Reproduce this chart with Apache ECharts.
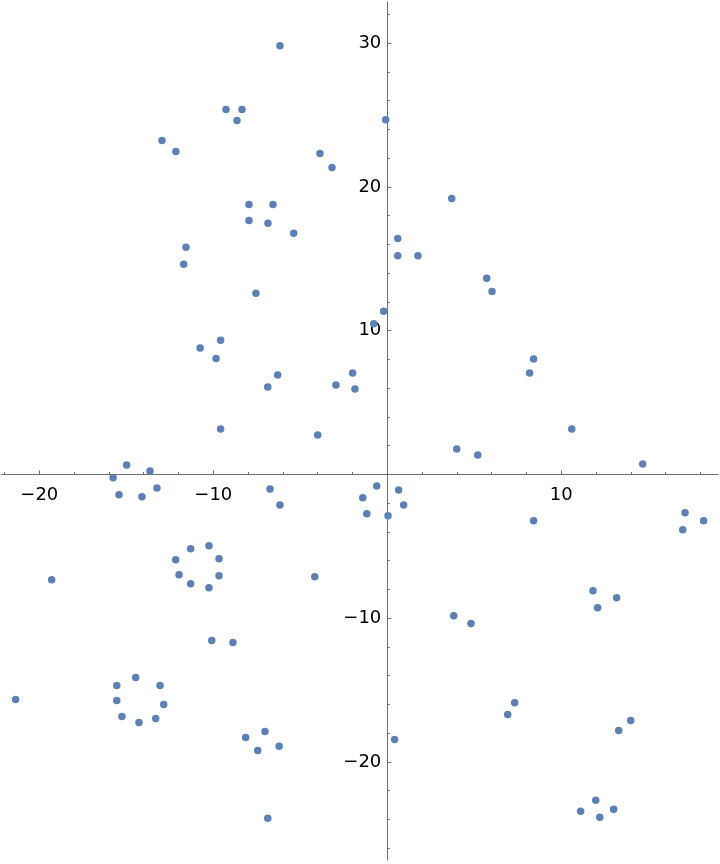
<!DOCTYPE html>
<html>
<head>
<meta charset="utf-8">
<style>
  html, body { margin: 0; padding: 0; background: #ffffff; }
  #chart { width: 720px; height: 864px; }
</style>
<script src="https://cdn.jsdelivr.net/npm/echarts@6/dist/echarts.min.js"></script>
</head>
<body>
<div id="chart"></div>
<script>
// Point coordinates
const xValues = [
  -6.17, -9.27, -8.35, -8.64, -12.95, -12.15, -3.87, -3.18, -7.95, -6.57,
  -7.95, -6.86, -5.38, -11.57, -11.70, -7.55, -0.09, 3.70, 0.60, 0.60,
  1.76, 5.71, 6.02, -10.76, -9.58, -9.84, -6.30, -6.87, -1.99, -2.95,
  -1.86, -9.58, -4.00, -14.98, -13.64, -15.76, -15.42, -14.10, -13.24, -6.74,
  -6.17, -11.30, -10.25, -12.16, -9.67, -11.97, -9.67, -11.30, -10.25, -19.29,
  -4.17, -0.21, -0.78, 8.41, 8.18, 10.60, 3.99, 5.20, 14.68, -1.41,
  -0.61, -1.18, 0.04, 0.65, 0.94, 8.41, 17.11, 18.18, 16.98, -10.09,
  -8.87, -14.46, -15.55, -13.06, -15.55, -12.85, -15.25, -14.27, -13.31, -21.36,
  -8.14, -7.03, -7.45, -6.22, -6.87, 0.42, 3.82, 4.81, 7.32, 6.92,
  11.82, 13.18, 12.09, 13.99, 13.30, 11.98, 11.11, 13.01, 12.21
];
const yValues = [
  29.83, 25.38, 25.38, 24.62, 23.23, 22.47, 22.33, 21.35, 18.78, 18.78,
  17.67, 17.47, 16.77, 15.80, 14.62, 12.60, 24.67, 19.20, 16.42, 15.22,
  15.22, 13.65, 12.72, 8.79, 9.34, 8.07, 6.91, 6.08, 7.05, 6.22,
  5.94, 3.16, 2.74, 0.66, 0.24, -0.24, -1.42, -1.56, -0.94, -1.01,
  -2.12, -5.17, -4.97, -5.94, -5.87, -6.98, -7.05, -7.60, -7.88, -7.33,
  -7.12, 11.35, 10.48, 8.02, 7.05, 3.16, 1.77, 1.35, 0.73, -1.63,
  -0.80, -2.74, -2.88, -1.08, -2.12, -3.23, -2.67, -3.23, -3.85, -11.56,
  -11.70, -14.13, -14.69, -14.69, -15.73, -16.01, -16.84, -17.26, -16.98, -15.66,
  -18.30, -17.88, -19.20, -18.92, -23.92, -18.44, -9.83, -10.38, -15.89, -16.70,
  -8.09, -8.58, -9.27, -17.12, -17.81, -22.67, -23.44, -23.30, -23.85
];
// tick values (major with labels, minor without)
const xMajorTicks = [-20, -10, 0, 10];
const xLabelTicks = [-20, -10, 10];
const xMinorTicks = [-22, -18, -16, -14, -12, -8, -6, -4, -2, 2, 4, 6, 8, 12, 14, 16, 18];
const yMajorTicks = [-20, -10, 0, 10, 20, 30];
const yLabelTicks = [-20, -10, 10, 20, 30];
const yMinorTicks = [-26, -24, -22, -18, -16, -14, -12, -8, -6, -4, -2, 2, 4, 6, 8, 12, 14, 16, 18, 22, 24, 26, 28, 32];

const points = xValues.map((x, i) => [x, yValues[i]]);

// plot range
const xMin = -22.144, xMax = 19.006, yMin = -26.826, yMax = 32.865;

// grid box
const W = 720, H = 864;
const G = { left: 2, right: 2, top: 2, bottom: 4 };
const gridW = W - G.left - G.right, gridH = H - G.top - G.bottom;
// move axes from the grid edges to the zero lines
const xAxisOffset = -gridH * (0 - yMin) / (yMax - yMin);
const yAxisOffset = -gridW * (0 - xMin) / (xMax - xMin);

const fmt = v => (v === 0 ? '' : String(v).replace('-', '\u2212'));
const axisGray = '#6e6e6e';
const labelStyle = { color: '#000', fontFamily: 'DejaVu Sans', fontSize: 18 };

function xAx(ticks, labels, len) {
  return {
    type: 'value', min: xMin, max: xMax, position: 'bottom', offset: xAxisOffset,
    axisLine: { show: true, onZero: false, lineStyle: { color: axisGray, width: 1 } },
    axisTick: { show: true, inside: true, length: len, customValues: ticks, lineStyle: { color: axisGray } },
    minorTick: { show: false },
    splitLine: { show: false },
    axisLabel: labels
      ? Object.assign({ show: true, customValues: labels, formatter: fmt, margin: 12 }, labelStyle)
      : { show: false }
  };
}
function yAx(ticks, labels, len) {
  return {
    type: 'value', min: yMin, max: yMax, position: 'left', offset: yAxisOffset,
    axisLine: { show: true, onZero: false, lineStyle: { color: axisGray, width: 1 } },
    axisTick: { show: true, inside: true, length: len, customValues: ticks, lineStyle: { color: axisGray } },
    minorTick: { show: false },
    splitLine: { show: false },
    axisLabel: labels
      ? Object.assign({ show: true, customValues: labels, formatter: fmt, margin: 6 }, labelStyle)
      : { show: false }
  };
}

const chart = echarts.init(document.getElementById('chart'), null, { renderer: 'canvas' });
chart.setOption({
  animation: false,
  backgroundColor: '#ffffff',
  grid: {
    left: G.left, right: G.right, top: G.top, bottom: G.bottom,
    containLabel: false, outerBoundsMode: 'none'
  },
  xAxis: [xAx(xMajorTicks, xLabelTicks, 4), xAx(xMinorTicks, null, 2.5)],
  yAxis: [yAx(yMajorTicks, yLabelTicks, 4), yAx(yMinorTicks, null, 2.5)],
  series: [{
    type: 'scatter',
    xAxisIndex: 0, yAxisIndex: 0,
    data: points,
    symbol: 'circle',
    symbolSize: 7.5,
    itemStyle: { color: '#5E81B5', opacity: 1 }
  }]
});
</script>
</body>
</html>
